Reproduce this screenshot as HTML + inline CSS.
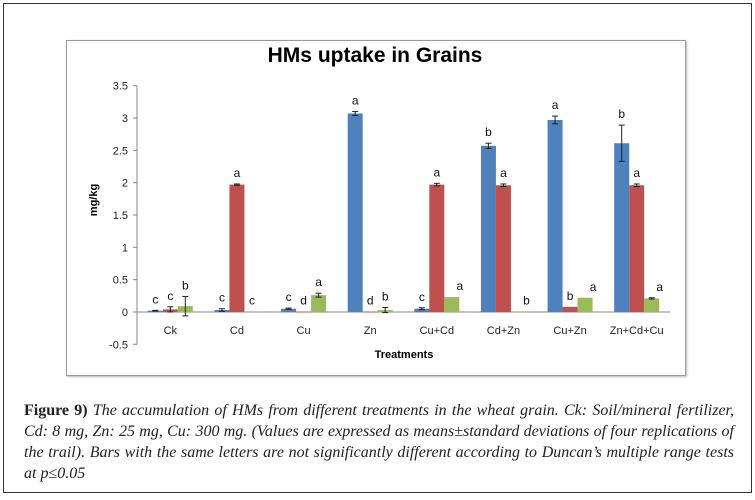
<!DOCTYPE html>
<html><head><meta charset="utf-8"><style>
body{margin:0;background:#fff;width:755px;height:500px;overflow:hidden;font-family:"Liberation Sans",sans-serif}
#outer{position:absolute;left:3px;top:3px;width:747px;height:488px;border:1px solid #333}
#inner{position:absolute;left:66px;top:40px;width:618px;height:334px;border:1px solid #999;box-shadow:1px 1px 2px #bbb}
#cap{position:absolute;left:24px;top:400px;width:710px;font-family:"Liberation Serif",serif;font-style:italic;font-size:16px;line-height:21px;color:#222}
#cap div{text-align:justify;text-align-last:justify;white-space:nowrap}
#cap div.last{text-align-last:left}
#cap b{font-style:normal}
</style></head><body>
<div id="outer"></div>
<div id="inner"></div>
<svg id="chart" width="755" height="500" style="position:absolute;left:0;top:0">
<text x="375" y="62" text-anchor="middle" font-size="21" font-weight="bold" fill="#000">HMs uptake in Grains</text>
<text transform="translate(97,200) rotate(-90)" text-anchor="middle" font-size="11" font-weight="bold">mg/kg</text>
<text x="404" y="358" text-anchor="middle" font-size="11" font-weight="bold">Treatments</text>
</svg>
<div id="cap">
<div><b>Figure 9)</b> The accumulation of HMs from different treatments in the wheat grain. Ck: Soil/mineral fertilizer,</div>
<div>Cd: 8 mg, Zn: 25 mg, Cu: 300 mg. (Values are expressed as means±standard deviations of four replications of</div>
<div>the trail). Bars with the same letters are not significantly different according to Duncan’s multiple range tests</div>
<div class="last">at p≤0.05</div>
</div>
<script>
const categories=["Ck","Cd","Cu","Zn","Cu+Cd","Cd+Zn","Cu+Zn","Zn+Cd+Cu"];
const blueVals=[0.02,0.03,0.05,3.07,0.05,2.57,2.97,2.61];
const blueErr=[0.005,0.02,0.01,0.03,0.015,0.04,0.06,0.28];
const blueLet=["c","c","c","a","c","b","a","b"];
const redVals=[0.04,1.97,0.005,0.005,1.97,1.96,0.08,1.96];
const redErr=[0.04,0.01,0,0,0.02,0.02,0,0.02];
const redLet=["c","a","d","d","a","a","b","a"];
const greenVals=[0.09,0.01,0.26,0.03,0.23,0.01,0.22,0.21];
const greenErr=[0.15,0,0.03,0.04,0,0,0,0.01];
const greenLet=["b","c","a","b","a","b","a","a"];
const yTicks=["-0.5","0","0.5","1","1.5","2","2.5","3","3.5"];
const NS="http://www.w3.org/2000/svg",svg=document.getElementById('chart');
const x0=137,x1=670,yMin=-0.5,yMax=3.5,py0=344.3,py1=85.7;
const y=v=>py0+(v-yMin)*(py1-py0)/(yMax-yMin);
const band=(x1-x0)/categories.length,bw=15;
function mk(t,a){const e=document.createElementNS(NS,t);for(const k in a)e.setAttribute(k,a[k]);svg.appendChild(e);return e;}
let ax=mk('line',{x1:x0,x2:x0,y1:y(yMin),y2:y(yMax),stroke:'#888'});

let bx=mk('line',{x1:x0,x2:x1,y1:y(0),y2:y(0),stroke:'#888'});

yTicks.forEach(t=>{const v=parseFloat(t);mk('line',{x1:x0-4,x2:x0,y1:y(v),y2:y(v),stroke:'#888'});
const tx=mk('text',{x:x0-9,y:y(v)+4,'text-anchor':'end','font-size':11,fill:'#222'});tx.textContent=t;
});
const series=[[blueVals,blueErr,blueLet,'#4F81BD','blue'],[redVals,redErr,redLet,'#C0504D','red'],[greenVals,greenErr,greenLet,'#9BBB59','green']];
categories.forEach((c,i)=>{const cx=x0+band*(i+0.5);
const cl=mk('text',{x:cx,y:y(0)+22,'text-anchor':'middle','font-size':11,fill:'#222'});cl.textContent=c;

series.forEach((s,j)=>{const v=s[0][i],e=s[1][i],bxp=cx-1.5*bw+j*bw;
const r=mk('rect',{x:bxp,y:Math.min(y(v),y(0)),width:bw,height:Math.max(Math.abs(y(0)-y(v)),0.8),fill:s[3]});

const mx=bxp+bw/2;if(e>0){mk('line',{x1:mx,x2:mx,y1:y(v+e),y2:y(v-e),stroke:'#222'});
mk('line',{x1:mx-3,x2:mx+3,y1:y(v+e),y2:y(v+e),stroke:'#222'});mk('line',{x1:mx-3,x2:mx+3,y1:y(v-e),y2:y(v-e),stroke:'#222'});}
const l=mk('text',{x:mx+(j==2&&i>=4?8:0),y:y(v+e)-7,'text-anchor':'middle','font-size':12,fill:'#111'});l.textContent=s[2][i];
});});
</script>
</body></html>
